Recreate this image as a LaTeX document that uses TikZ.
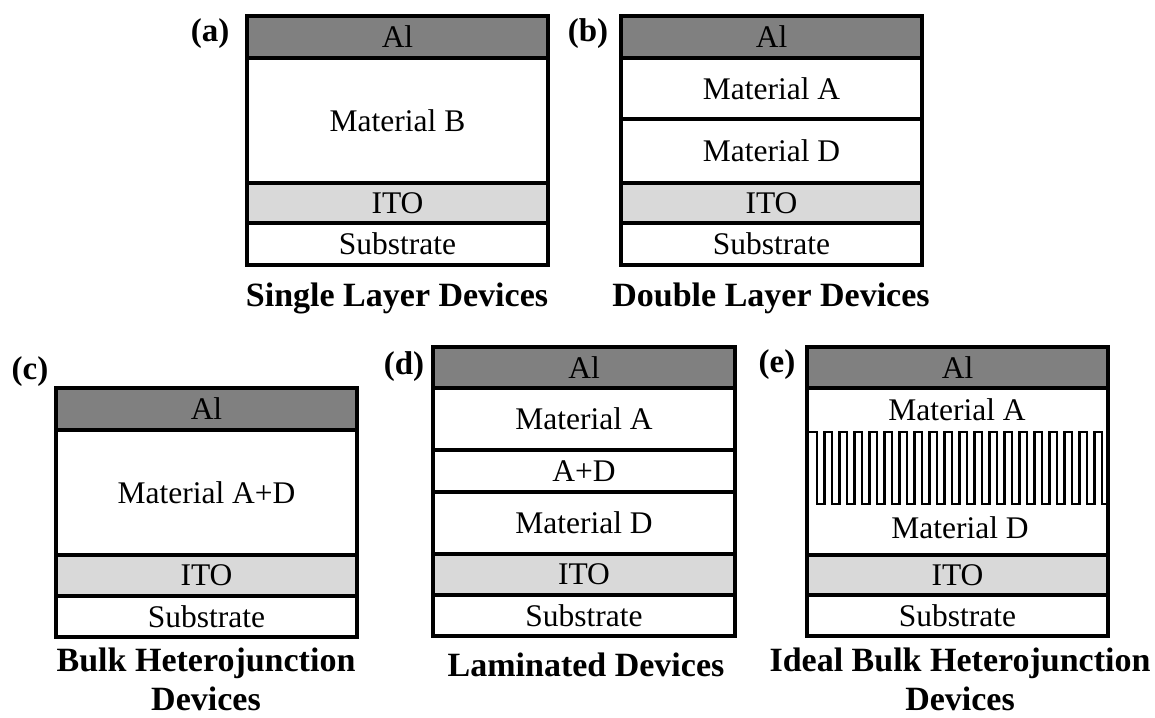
\documentclass[tikz,border=0pt]{standalone}
\usepackage{fontspec}
\setmainfont{Liberation Serif}
\begin{document}
\begin{tikzpicture}[x=1pt,y=-1pt,
  layer/.style={draw=black, line width=3.3pt, inner sep=0pt, outer sep=0pt,
    font=\fontsize{31.5}{36}\selectfont},
  alfill/.style={fill={rgb,255:red,128;green,128;blue,128}},
  itofill/.style={fill={rgb,255:red,217;green,217;blue,217}},
  whitefill/.style={fill=white},
  caption/.style={font=\bfseries\fontsize{34}{39}\selectfont, align=center, inner sep=0pt},
  tag/.style={font=\bfseries\fontsize{33}{40}\selectfont, inner sep=0pt},
  combline/.style={draw=black, line width=2.6pt, line join=miter},
  plain/.style={inner sep=0pt, font=\fontsize{31.5}{36}\selectfont}
]
\useasboundingbox (0,0) rectangle (1155,717);
\fill[white] (0,0) rectangle (1155,717);

% #1 name, #2 x1, #3 y1, #4 x2, #5 y2, #6 fill style, #7 text
\newcommand\mylayer[7]{%
  \node[layer, #6, minimum width={#4-#2}, minimum height={#5-#3}]
    (#1) at ({(#2+#4)/2},{(#3+#5)/2}) {#7};}

% (a)
\mylayer{aAl}{247}{16}{548}{58}{alfill}{Al}
\mylayer{aB}{247}{58}{548}{183}{whitefill}{Material B}
\mylayer{aITO}{247}{183}{548}{223}{itofill}{ITO}
\mylayer{aSub}{247}{223}{548}{265}{whitefill}{Substrate}
\node[tag] (ta) at (210,34) {(a)};
\node[caption] (ca) at (397,298) {Single Layer Devices};

% (b)
\mylayer{bAl}{621}{16}{922}{58}{alfill}{Al}
\mylayer{bA}{621}{58}{922}{119}{whitefill}{Material A}
\mylayer{bD}{621}{119}{922}{183}{whitefill}{Material D}
\mylayer{bITO}{621}{183}{922}{223}{itofill}{ITO}
\mylayer{bSub}{621}{223}{922}{265}{whitefill}{Substrate}
\node[tag] (tb) at (588,34) {(b)};
\node[caption] (cb) at (771,298) {Double Layer Devices};

% (c)
\mylayer{cAl}{56}{388}{357}{430}{alfill}{Al}
\mylayer{cAD}{56}{430}{357}{555}{whitefill}{Material A+D}
\mylayer{cITO}{56}{555}{357}{596}{itofill}{ITO}
\mylayer{cSub}{56}{596}{357}{637}{whitefill}{Substrate}
\node[tag] (tc) at (30,372) {(c)};
\node[caption] (cc) at (206,679) {Bulk Heterojunction\\Devices};

% (d)
\mylayer{dAl}{433}{347}{735}{388}{alfill}{Al}
\mylayer{dA}{433}{388}{735}{450}{whitefill}{Material A}
\mylayer{dAD}{433}{450}{735}{492}{whitefill}{A+D}
\mylayer{dD}{433}{492}{735}{554}{whitefill}{Material D}
\mylayer{dITO}{433}{554}{735}{595}{itofill}{ITO}
\mylayer{dSub}{433}{595}{735}{636}{whitefill}{Substrate}
\node[tag] (td) at (404,367) {(d)};
\node[caption] (cd) at (586,665) {Laminated Devices};

% (e)
\mylayer{eAl}{807}{347}{1108}{388}{alfill}{Al}
\mylayer{eM}{807}{388}{1108}{555}{whitefill}{}
\mylayer{eITO}{807}{555}{1108}{595}{itofill}{ITO}
\mylayer{eSub}{807}{595}{1108}{636}{whitefill}{Substrate}
\node[plain] (eA) at (957,410) {Material A};
\node[plain] (eD) at (960,528) {Material D};
\node[tag] (te) at (777,365) {(e)};
\node[caption] (ce) at (960,679) {Ideal Bulk Heterojunction\\Devices};

\draw[combline] (808,432) -- (817,432)
  foreach \k in {0,...,18} {
    -- ({817+15*\k},504) -- ({824.5+15*\k},504)
    -- ({824.5+15*\k},432) -- ({832+15*\k},432) }
  -- (1102,432) -- (1102,504) -- (1107,504);
\end{tikzpicture}
\end{document}
